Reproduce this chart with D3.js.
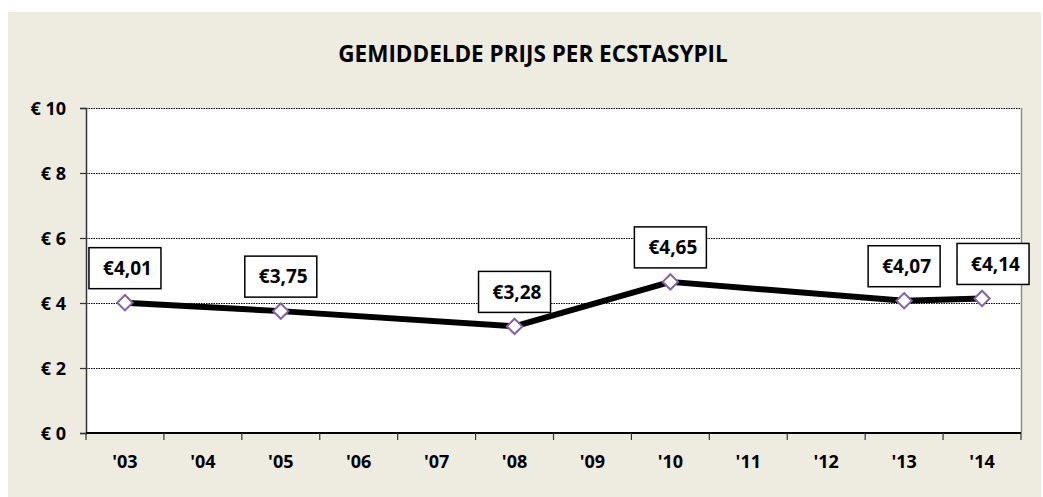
<!DOCTYPE html>
<html>
<head>
<meta charset="utf-8">
<script src="https://cdn.jsdelivr.net/npm/d3@7"></script>
<style>
  html, body { margin: 0; padding: 0; background: #ffffff; }
  svg { display: block; font-family: "Open Sans", "DejaVu Sans", sans-serif; }
</style>
</head>
<body>
<svg id="chart" width="1043" height="497"></svg>
<script>
// Average price per ecstasy pill, by survey year
const title = "GEMIDDELDE PRIJS PER ECSTASYPIL";
const years = ["'03", "'04", "'05", "'06", "'07", "'08", "'09", "'10", "'11", "'12", "'13", "'14"];
const prices = [4.01, null, 3.75, null, null, 3.28, null, 4.65, null, null, 4.07, 4.14];
const yTicks = [0, 2, 4, 6, 8, 10];

const svg = d3.select("#chart");
const panel = { x: 8, y: 12, w: 1033, h: 485 };
const plot = { left: 86, top: 108, right: 1021, bottom: 433 };

// chart background
svg.append("rect")
  .attr("x", panel.x).attr("y", panel.y)
  .attr("width", panel.w).attr("height", panel.h)
  .attr("fill", "#EEECE1");

// plot area
svg.append("rect")
  .attr("x", plot.left).attr("y", plot.top)
  .attr("width", plot.right - plot.left).attr("height", plot.bottom - plot.top)
  .attr("fill", "#ffffff");

// title
svg.append("text")
  .attr("x", 533).attr("y", 62)
  .attr("text-anchor", "middle")
  .attr("font-size", 22.5).attr("font-weight", 700)
  .attr("fill", "#000")
  .text(title);

const x = d3.scaleBand().domain(years).range([plot.left, plot.right]).padding(0);
const y = d3.scaleLinear().domain([0, 10]).range([plot.bottom, plot.top]);

// horizontal gridlines
svg.append("g")
  .selectAll("line")
  .data(yTicks.filter(d => d > 0))
  .join("line")
  .attr("x1", plot.left).attr("x2", plot.right)
  .attr("y1", d => y(d) + 0.5).attr("y2", d => y(d) + 0.5)
  .attr("stroke", "#000").attr("stroke-width", 1)
  .attr("stroke-dasharray", "1.5,1");

// right border of the plot area
svg.append("line")
  .attr("x1", plot.right + 0.5).attr("x2", plot.right + 0.5)
  .attr("y1", plot.top).attr("y2", plot.bottom)
  .attr("stroke", "#8c8c8c").attr("stroke-width", 1.5);

// y axis
const yAxis = svg.append("g")
  .attr("transform", `translate(${plot.left},0)`)
  .call(d3.axisLeft(y).tickValues(yTicks).tickSize(6).tickPadding(14)
    .tickFormat(d => "€ " + d));
yAxis.select(".domain").attr("stroke", "#333").attr("stroke-width", 1.5);
yAxis.selectAll(".tick line").attr("stroke", "#333").attr("stroke-width", 1.2);
yAxis.selectAll(".tick text")
  .attr("font-family", "'Open Sans', 'DejaVu Sans', sans-serif")
  .attr("font-size", 18).attr("font-weight", 700).attr("fill", "#000")
  .attr("dy", "0.36em");

// x axis: ticks at category boundaries, labels at category centres
const xg = svg.append("g").attr("transform", `translate(0,${plot.bottom})`);
xg.append("line")
  .attr("x1", plot.left).attr("x2", plot.right)
  .attr("stroke", "#000").attr("stroke-width", 2);
const bounds = years.map(d => x(d)).concat([x(years[years.length - 1]) + x.bandwidth()]);
xg.selectAll("line.tick")
  .data(bounds)
  .join("line")
  .attr("class", "tick")
  .attr("x1", d => d).attr("x2", d => d)
  .attr("y1", 0).attr("y2", 7)
  .attr("stroke", "#333").attr("stroke-width", 1.2);
xg.selectAll("text")
  .data(years)
  .join("text")
  .attr("x", d => x(d) + x.bandwidth() / 2)
  .attr("y", 35)
  .attr("text-anchor", "middle")
  .attr("font-size", 18).attr("font-weight", 700).attr("fill", "#000")
  .text(d => d);

// series points (gaps are bridged)
const pts = years.map((yr, i) => ({ yr, v: prices[i] })).filter(d => d.v != null);
const cx = d => x(d.yr) + x.bandwidth() / 2;

svg.append("path")
  .datum(pts)
  .attr("fill", "none")
  .attr("stroke", "#000")
  .attr("stroke-width", 6)
  .attr("stroke-linejoin", "round")
  .attr("d", d3.line().x(cx).y(d => y(d.v)));

svg.append("g")
  .selectAll("path")
  .data(pts)
  .join("path")
  .attr("transform", d => `translate(${cx(d)},${y(d.v)})`)
  .attr("d", d3.symbol(d3.symbolDiamond2, 150)())
  .attr("fill", "#ffffff")
  .attr("stroke", "#8064A2")
  .attr("stroke-width", 2);

// value labels in boxes above each point
const fmt = v => "€" + v.toFixed(2).replace(".", ",");
const boxW = 72, boxH = 41, gap = 14;
const labels = svg.append("g")
  .selectAll("g")
  .data(pts)
  .join("g")
  .attr("transform", (d, i) => {
    const shift = i === pts.length - 1 ? 11 : 0; // keep last label inside the chart
    return `translate(${cx(d) + shift},${y(d.v) - gap - boxH / 2})`;
  });
labels.append("rect")
  .attr("x", -boxW / 2).attr("y", -boxH / 2)
  .attr("width", boxW).attr("height", boxH)
  .attr("fill", "#ffffff")
  .attr("stroke", "#000").attr("stroke-width", 1.5);
labels.append("text")
  .attr("x", 2.5).attr("y", 0)
  .attr("dy", "0.36em")
  .attr("text-anchor", "middle")
  .attr("font-size", 19).attr("font-weight", 700).attr("fill", "#000")
  .text(d => fmt(d.v));
</script>
</body>
</html>
